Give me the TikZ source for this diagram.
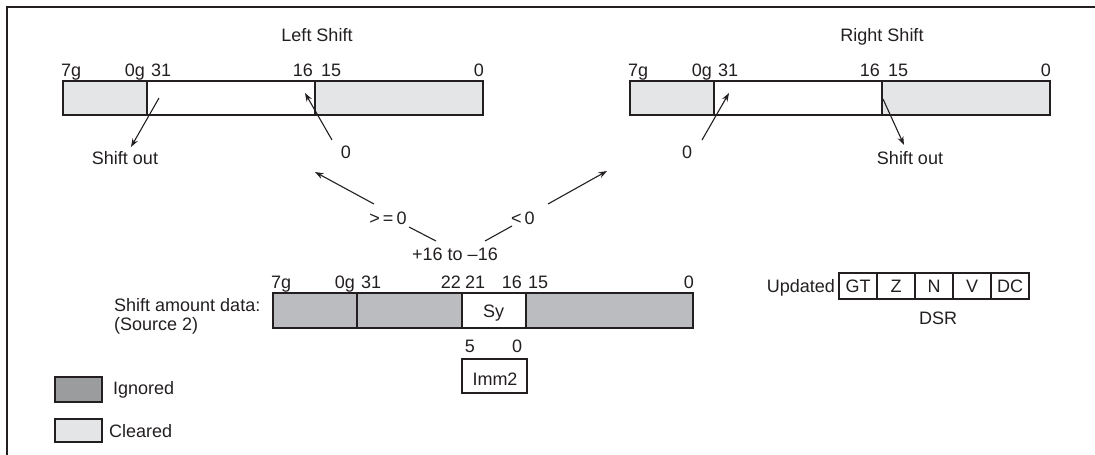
\documentclass[tikz,border=0pt]{standalone}
\usepackage{fontspec}
\setmainfont{Liberation Sans}
\usetikzlibrary{arrows.meta}
\definecolor{clearedc}{HTML}{E4E5E7}
\definecolor{greyc}{HTML}{BBBCBF}
\definecolor{ignoredc}{HTML}{9B9C9E}
\definecolor{inkc}{HTML}{231F20}
\tikzset{
  cell/.style={draw=inkc, line width=2.2pt, inner sep=0pt, outer sep=0pt, minimum height=34pt},
  flag/.style={draw=inkc, line width=1.2pt, inner sep=0pt, outer sep=0pt, minimum width=38pt, minimum height=26pt},
  lbl/.style={inner sep=0pt, text=inkc},
  arr/.style={draw=inkc, line width=1.1pt, -{Stealth[length=8.5pt,width=6pt]}},
  ln/.style={draw=inkc, line width=1.1pt}
}
\begin{document}
\begin{tikzpicture}[x=1pt,y=-1pt, font=\fontsize{18}{21}\selectfont]
\useasboundingbox (0,0) rectangle (1095,455);
% frame
\draw[inkc, line width=2.4pt] (7,455) -- (7,7) -- (1095,7);

% ---------- Left shift ----------
\node[lbl, anchor=base] (lt) at (317,41) {Left Shift};
\node[cell, fill=clearedc, minimum width=84pt]  (L1) at (105,98) {};
\node[cell, fill=white,    minimum width=168pt] (L2) at (231,98) {};
\node[cell, fill=clearedc, minimum width=168pt] (L3) at (399,98) {};
\node[lbl, anchor=base west] (la) at (61,76) {7g};
\node[lbl, anchor=base east] (lb) at (145,76) {0g};
\node[lbl, anchor=base west] (lc) at (151,76) {31};
\node[lbl, anchor=base east] (ld) at (313,76) {16};
\node[lbl, anchor=base west] (le) at (321,76) {15};
\node[lbl, anchor=base east] (lf) at (484,76) {0};
\node[lbl, anchor=base] (lso) at (125,164) {Shift out};
\node[lbl, anchor=base] (lz) at (346,158) {0};
\coordinate (lsoA) at (159,98);
\coordinate (lsoB) at (131,147);
\coordinate (lzA) at (332,140);
\coordinate (lzB) at (305,93);
\draw[arr] (lsoA) -- (lsoB);
\draw[arr] (lzA) -- (lzB);

% ---------- Right shift ----------
\node[lbl, anchor=base] (rt) at (882,41) {Right Shift};
\node[cell, fill=clearedc, minimum width=84pt]  (R1) at (672,98) {};
\node[cell, fill=white,    minimum width=168pt] (R2) at (798,98) {};
\node[cell, fill=clearedc, minimum width=168pt] (R3) at (966,98) {};
\node[lbl, anchor=base west] (ra) at (628,76) {7g};
\node[lbl, anchor=base east] (rb) at (712,76) {0g};
\node[lbl, anchor=base west] (rc) at (718,76) {31};
\node[lbl, anchor=base east] (rd) at (880,76) {16};
\node[lbl, anchor=base west] (re) at (888,76) {15};
\node[lbl, anchor=base east] (rf) at (1051,76) {0};
\node[lbl, anchor=base] (rz) at (687,158) {0};
\node[lbl, anchor=base] (rso) at (910,164) {Shift out};
\coordinate (rzA) at (702,140);
\coordinate (rzB) at (729,93);
\coordinate (rsoA) at (883,99);
\coordinate (rsoB) at (904,145);
\draw[arr] (rzA) -- (rzB);
\draw[arr] (rsoA) -- (rsoB);

% ---------- selector ----------
\node[lbl, anchor=base] (ge) at (388,224) {>\,=\,0};
\node[lbl, anchor=base] (lt0) at (523,224) {<\,0};
\node[lbl, anchor=base] (rng) at (455,260) {+16 to –16};
\coordinate (bla) at (374,204);
\coordinate (blb) at (315,172);
\coordinate (bra) at (548,204);
\coordinate (brb) at (607,171);
\coordinate (sla) at (436,241);
\coordinate (slb) at (409,227);
\coordinate (sra) at (485,241);
\coordinate (srb) at (512,226);
\draw[arr] (bla) -- (blb);
\draw[arr] (bra) -- (brb);
\draw[ln] (sla) -- (slb);
\draw[ln] (sra) -- (srb);

% ---------- shift amount data ----------
\node[lbl, anchor=base west] (sad) at (114,311) {Shift amount data:};
\node[lbl, anchor=base west] (src) at (114,330) {(Source 2)};
\node[cell, fill=greyc, minimum width=84pt,  minimum height=35pt] (S1) at (315,310.5) {};
\node[cell, fill=greyc, minimum width=105pt, minimum height=35pt] (S2) at (409.5,310.5) {};
\node[cell, fill=white, minimum width=64pt,  minimum height=35pt] (S3) at (494,310.5) {};
\node[cell, fill=greyc, minimum width=167pt, minimum height=35pt] (S4) at (609.5,310.5) {};
\node[lbl, anchor=base] (sy) at (493.5,317) {Sy};
\node[lbl, anchor=base west] (sa) at (271,288) {7g};
\node[lbl, anchor=base east] (sb) at (355,288) {0g};
\node[lbl, anchor=base west] (sc) at (361,288) {31};
\node[lbl, anchor=base east] (sd) at (461,288) {22};
\node[lbl, anchor=base west] (se) at (465,288) {21};
\node[lbl, anchor=base east] (sf) at (522,288) {16};
\node[lbl, anchor=base west] (sg) at (528,288) {15};
\node[lbl, anchor=base east] (sh) at (694,288) {0};
\node[lbl, anchor=base] (i5) at (470,352) {5};
\node[lbl, anchor=base] (i0) at (517,352) {0};
\node[draw=inkc, line width=2pt, inner sep=0pt, minimum width=65pt, minimum height=34pt] (imm) at (494.5,376) {};
\node[lbl, anchor=base] (immt) at (495,385) {Imm2};

% ---------- DSR ----------
\node[lbl, anchor=base east] (upd) at (835,292) {Updated};
\node[flag] (fGT) at (858,286) {};
\node[flag] (fZ)  at (896,286) {};
\node[flag] (fN)  at (934,286) {};
\node[flag] (fV)  at (972,286) {};
\node[flag] (fDC) at (1010,286) {};
\draw[inkc, line width=2.2pt] (fGT.north west) rectangle (fDC.south east);
\node[lbl, anchor=base] at (858,292.5) {GT};
\node[lbl, anchor=base] at (896,292.5) {Z};
\node[lbl, anchor=base] at (934,292.5) {N};
\node[lbl, anchor=base] at (972,292.5) {V};
\node[lbl, anchor=base] at (1010,292.5) {DC};
\node[lbl, anchor=base] (dsr) at (938,324.5) {DSR};

% ---------- legend ----------
\node[cell, fill=ignoredc, minimum width=47pt, minimum height=25pt] (kI) at (78.5,389.5) {};
\node[cell, fill=clearedc, minimum width=47pt, minimum height=23pt] (kC) at (78.5,430.5) {};
\node[lbl, anchor=west] (kIt) at (113,389.5) {Ignored};
\node[lbl, anchor=west] (kCt) at (109,431) {Cleared};
\end{tikzpicture}
\end{document}
